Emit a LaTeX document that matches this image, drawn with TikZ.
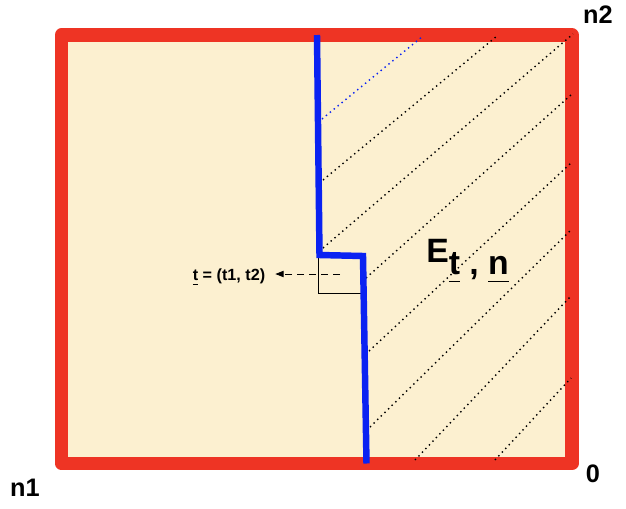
\documentclass[tikz,border=0pt]{standalone}
\usepackage{fontspec}
\setmainfont{Liberation Sans}
\usetikzlibrary{arrows.meta}

\definecolor{framered}{HTML}{EE3424}
\definecolor{paper}{HTML}{FCF0D0}
\definecolor{routeblue}{HTML}{0A22F2}

\newsavebox{\ulbox}
\newcommand{\ul}[1]{\sbox{\ulbox}{#1}\rlap{\raisebox{-0.25em}{\rule{\wd\ulbox}{0.05em}}}\usebox{\ulbox}}

\begin{document}
\begin{tikzpicture}[
  x=0.025cm, y=-0.025cm,
  border/.style={draw=framered, line width=9.6pt, line join=round, fill=paper},
  route/.style={draw=routeblue, line width=4.6pt, line join=miter},
  hatch/.style={line width=1pt, dash pattern=on 1pt off 2.6pt},
  corner/.style={font=\fontsize{18}{21}\selectfont\bfseries},
  cell/.style={draw, line width=0.7pt, minimum width=1.1cm, minimum height=0.95cm, inner sep=0pt},
  pointer/.style={draw, line width=0.7pt, dash pattern=on 5pt off 3.5pt, -{Triangle[length=6pt, width=4.5pt]}},
]
  \useasboundingbox (0,0) rectangle (626,508);

  % Frame
  \draw[border] (61.5,35) rectangle (572,463.5);

  % Hatching of the region right of the path
  \draw[hatch, routeblue] (322,119) -- (423,36);
  \draw[hatch] (323,180) -- (497,36);
  \draw[hatch] (323,248) -- (573,34);
  \draw[hatch] (366,278) -- (572,94);
  \draw[hatch] (369,351) -- (571,163);
  \draw[hatch] (370,427) -- (571,230);
  \draw[hatch] (415,460) -- (571,296);
  \draw[hatch] (495,460) -- (571,378);

  % Cell at the step
  \node[cell] (sq) at (340,274) {};

  % Monotone path
  \draw[route] (317,35) -- (319.5,255) -- (363,256) -- (366.5,463.5);

  % Labels
  \node[font=\fontsize{11.5}{13}\selectfont\bfseries, inner xsep=7pt] (tlab) at (229,277) {\ul{t} = (t1, t2)};
  \draw[pointer] (sq.center) -- (sq.center -| tlab.east);

  \node[font=\fontsize{24}{28}\selectfont\bfseries, anchor=base west, inner sep=0pt] (elab) at (426,274)
    {\raisebox{8.5pt}{E}\ul{t} , \ul{n}};

  \node[corner] (n2lab) at (598,15) {n2};
  \node[corner] (n1lab) at (25,488) {n1};
  \node[corner] (zerolab) at (593,474) {0};
\end{tikzpicture}
\end{document}
